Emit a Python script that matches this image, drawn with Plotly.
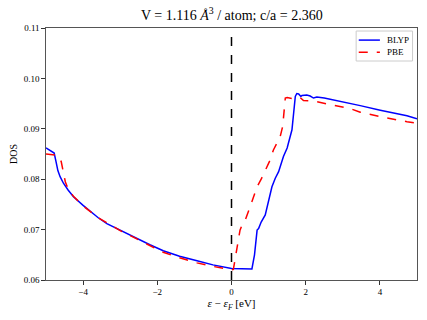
import plotly.graph_objects as go

# energy relative to Fermi level (eV) and DOS values
blyp_e = [-5.0, -4.9, -4.78, -4.73, -4.68, -4.62, -4.53, -4.4, -4.26, -4.0, -3.81, -3.6, -3.36,
          -3.0, -2.73, -2.55, -2.2, -1.84, -1.4, -0.93, -0.5, 0.0, 0.3, 0.55, 0.62,
          0.69, 0.73, 0.8, 0.91, 1.0, 1.09, 1.18, 1.27, 1.4, 1.5, 1.63, 1.68, 1.72,
          1.76, 1.81, 1.87, 1.9, 2.03, 2.12, 2.21, 2.3, 2.5, 2.84, 2.93, 3.2, 3.47,
          4.01, 4.3, 4.73, 5.0]
blyp_dos = [0.0862, 0.0858, 0.0852, 0.0835, 0.0817, 0.0805, 0.0792, 0.0778, 0.0765, 0.0748, 0.0736,
            0.0724, 0.0712, 0.0699, 0.0688, 0.0682, 0.0670, 0.0658, 0.0647, 0.0638, 0.0630,
            0.0623, 0.0622, 0.0622, 0.0650, 0.0699, 0.0702, 0.0715, 0.0729, 0.0755, 0.0785,
            0.0802, 0.0815, 0.0845, 0.0862, 0.0898, 0.0930, 0.0964, 0.0970, 0.0969, 0.0964,
            0.0966, 0.0967, 0.0965, 0.0961, 0.0963, 0.0961, 0.0956, 0.0955, 0.0951, 0.0946,
            0.0937, 0.0933, 0.0926, 0.0920]

pbe_e = [-5.0, -4.8, -4.67, -4.59, -4.48, -4.4, -4.26, -4.0, -3.6, -3.0, -2.55, -2.2,
         -1.84, -1.4, -0.93, -0.5, 0.0, 0.05, 0.15, 0.23, 0.3, 0.37, 0.5, 0.69, 0.8,
         0.96, 1.04, 1.13, 1.31, 1.38, 1.45, 1.5, 1.6, 1.72, 1.85, 1.94, 2.21, 2.48,
         2.93, 3.2, 3.47, 4.01, 4.73, 5.0]
pbe_dos = [0.0850, 0.0849, 0.0847, 0.0835, 0.0795, 0.0780, 0.0766, 0.0747, 0.0724, 0.0698,
           0.0681, 0.0668, 0.0655, 0.0644, 0.0634, 0.0627, 0.0620, 0.0621, 0.0665, 0.0699,
           0.0712, 0.0719, 0.0745, 0.0785, 0.0800, 0.0825, 0.0838, 0.0858, 0.0884, 0.0905,
           0.0961, 0.0962, 0.0960, 0.0959, 0.0962, 0.0956, 0.0955, 0.0951, 0.0944, 0.0940,
           0.0933, 0.0924, 0.0914, 0.0911]

x_ticks = [-4, -2, 0, 2, 4]
y_ticks = [0.06, 0.07, 0.08, 0.09, 0.10, 0.11]

serif = "Liberation Serif, Times New Roman, serif"

series = [
    ("BLYP", blyp_e, blyp_dos, dict(color="blue", width=1.5)),
    ("PBE", pbe_e, pbe_dos, dict(color="red", width=1.5, dash="dash")),
]

fig = go.Figure()
for name, e, d, line in series:
    fig.add_trace(go.Scatter(x=e, y=d, mode="lines", name=name, line=line, showlegend=False))

# Fermi level marker
fig.add_vline(x=0, line=dict(color="black", width=1.5, dash="dash"))

# compact matplotlib-style legend box (plotly's own legend rows are too tall)
fig.add_shape(type="rect", xref="paper", yref="paper", x0=0.836, x1=0.988, y0=0.869, y1=0.988,
              line=dict(color="#cccccc", width=1), fillcolor="white", layer="above")
for i, (name, e, d, line) in enumerate(series):
    yy = 0.952 - i * 0.048
    fig.add_shape(type="line", xref="paper", yref="paper", x0=0.843, x1=0.900, y0=yy, y1=yy,
                  line=line, layer="above")
    fig.add_annotation(xref="paper", yref="paper", x=0.914, y=yy, text=name, showarrow=False,
                       xanchor="left", yanchor="middle",
                       font=dict(family=serif, size=9, color="black"))

axis_style = dict(showgrid=False, zeroline=False, showline=True, mirror=True,
                  linecolor="#555", linewidth=1.2, ticks="outside", ticklen=3.5,
                  tickcolor="#333", automargin=False,
                  tickfont=dict(family=serif, size=9, color="black"))

fig.update_layout(
    width=427, height=320,
    margin=dict(l=46, r=10, t=28, b=40),
    paper_bgcolor="white", plot_bgcolor="white",
    title=dict(text="V = 1.116 <i>Å</i><sup>3</sup> / atom; c/a = 2.360",
               x=0.543, xanchor="center", y=0.952, yanchor="middle",
               font=dict(family=serif, size=14, color="black")),
    xaxis=dict(range=[-5, 5], tickvals=x_ticks,
               ticktext=["\u22124", "\u22122", "0", "2", "4"],
               title=dict(text="<i>ε</i> − <i>ε<sub>F</sub></i> [eV]", standoff=2,
                          font=dict(family=serif, size=11, color="black")),
               **axis_style),
    yaxis=dict(range=[0.06, 0.11], tickvals=y_ticks, tickformat=".2f",
               title=dict(text="DOS", standoff=4,
                          font=dict(family=serif, size=10, color="black")),
               **axis_style),
)

fig.write_html("out.html", config={"displayModeBar": False},
               post_script="document.body.style.margin='0';")
